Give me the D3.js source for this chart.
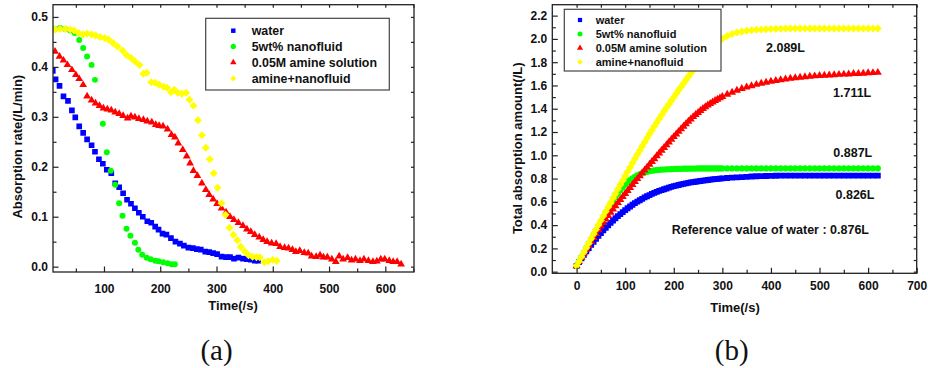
<!DOCTYPE html>
<html><head><meta charset="utf-8">
<script src="https://cdn.jsdelivr.net/npm/d3@7"></script>
<style>
body{margin:0;background:#fff;}
svg{display:block;}
text{font-family:"Liberation Sans",Arial,sans-serif;font-weight:bold;fill:#111;}
text.serif{font-family:"Liberation Serif","Times New Roman",serif;font-weight:normal;}
</style></head><body>
<svg id="c" width="928" height="368"></svg>
<script>
// ---------- DATA ----------
const seriesNames = ["water", "5wt% nanofluid", "0.05M amine solution", "amine+nanofluid"];

// (a) absorption rate (/L/min) vs time (s)
const waterAT = [9,14,21,28,36,43,49,56,63,70,78,84,91,98,105,113,120,127,134,141,148,155,162,169,177,184,191,197,204,211,219,227,235,242,250,258,265,272,280,287,294,301,309,317,324,331,339,347,354,361,368,374];
const waterAV = [0.392,0.375,0.362,0.341,0.332,0.313,0.299,0.281,0.268,0.255,0.243,0.230,0.215,0.206,0.194,0.187,0.167,0.159,0.147,0.134,0.126,0.117,0.108,0.100,0.091,0.088,0.080,0.074,0.066,0.064,0.057,0.050,0.046,0.042,0.038,0.037,0.035,0.034,0.030,0.029,0.027,0.025,0.020,0.019,0.019,0.016,0.018,0.016,0.015,0.014,0.012,0.012];
const greenAT = [13,22,31,40,48,56,63,70,78,84,98,105,112,120,127,133,140,147,155,161,168,176,183,191,197,205,213,220,226];
const greenAV = [0.476,0.478,0.476,0.473,0.468,0.454,0.438,0.421,0.404,0.374,0.286,0.229,0.192,0.164,0.127,0.102,0.076,0.062,0.048,0.034,0.024,0.018,0.015,0.012,0.011,0.009,0.007,0.005,0.005];
const redAT = [13,21,28,35,43,50,56,63,70,78,85,92,99,106,113,120,127,134,142,148,155,162,170,177,185,192,198,205,213,220,226,232,240,247,253,259,266,274,281,287,294,301,309,317,324,331,339,347,354,361,368,376,383,390,398,406,413,421,428,435,441,448,456,463,469,477,484,490,497,505,512,518,525,533,540,547,555,562,570,578,585,592,599,607,614,621,628];
const redAV = [0.431,0.421,0.413,0.404,0.394,0.384,0.376,0.364,0.341,0.333,0.327,0.322,0.317,0.315,0.313,0.309,0.306,0.302,0.297,0.301,0.299,0.296,0.294,0.291,0.289,0.284,0.282,0.281,0.275,0.264,0.259,0.247,0.234,0.221,0.207,0.192,0.182,0.167,0.154,0.144,0.135,0.126,0.117,0.109,0.100,0.094,0.088,0.082,0.075,0.070,0.064,0.059,0.054,0.050,0.047,0.046,0.040,0.038,0.037,0.034,0.030,0.032,0.028,0.027,0.021,0.020,0.023,0.019,0.019,0.015,0.010,0.021,0.015,0.018,0.013,0.015,0.012,0.015,0.012,0.010,0.011,0.015,0.015,0.012,0.010,0.010,0.005];
const yellowAT = [13,22,31,40,47,55,63,70,78,85,93,101,108,116,124,133,140,148,155,163,170,176,184,191,198,206,212,219,225,231,238,246,252,259,267,274,281,288,295,302,309,316,323,330,337,343,350,357,364,371,377,385,392,400,407];
const yellowAV = [0.475,0.476,0.476,0.475,0.473,0.468,0.465,0.467,0.465,0.463,0.460,0.458,0.455,0.448,0.441,0.433,0.424,0.418,0.411,0.404,0.386,0.388,0.369,0.368,0.364,0.360,0.358,0.349,0.354,0.348,0.346,0.348,0.334,0.322,0.293,0.263,0.238,0.215,0.187,0.158,0.127,0.104,0.078,0.064,0.053,0.040,0.031,0.023,0.020,0.019,0.019,0.009,0.011,0.014,0.012];

// (b) total absorption amount (/L) vs time (s): 5 s samples to 295 s, then 10 s samples to 620 s
const timeB = d3.range(0, 300, 5).concat(d3.range(300, 621, 10));
const waterBV = [0.050,0.083,0.114,0.145,0.174,0.202,0.230,0.257,0.283,0.308,0.332,0.355,0.377,0.399,0.420,0.440,0.459,0.477,0.495,0.512,0.529,0.545,0.560,0.575,0.589,0.602,0.614,0.626,0.638,0.648,0.658,0.668,0.677,0.686,0.694,0.701,0.708,0.715,0.722,0.729,0.735,0.740,0.745,0.750,0.755,0.759,0.763,0.767,0.770,0.773,0.776,0.779,0.782,0.785,0.788,0.791,0.793,0.795,0.797,0.799,
  0.801,0.805,0.808,0.810,0.813,0.815,0.818,0.820,0.821,0.822,0.823,0.824,0.825,0.826,0.826,0.826,0.826,0.826,0.826,0.826,0.826,0.826,0.826,0.826,0.826,0.826,0.826,0.826,0.826,0.826,0.826,0.826,0.826];
const greenBV = [0.050,0.088,0.126,0.165,0.203,0.242,0.280,0.318,0.356,0.394,0.432,0.469,0.505,0.540,0.575,0.609,0.641,0.671,0.700,0.726,0.749,0.769,0.786,0.801,0.815,0.827,0.837,0.845,0.852,0.858,0.863,0.867,0.871,0.873,0.875,0.877,0.878,0.879,0.880,0.881,0.882,0.883,0.884,0.884,0.885,0.885,0.885,0.886,0.886,0.886,0.887,0.887,0.887,0.887,0.887,0.887,0.887,0.887,0.887,0.887,
  0.887,0.887,0.887,0.887,0.887,0.887,0.887,0.887,0.887,0.887,0.887,0.887,0.887,0.887,0.887,0.887,0.887,0.887,0.887,0.887,0.887,0.887,0.887,0.887,0.887,0.887,0.887,0.887,0.887,0.887,0.887,0.887,0.887];
const redBV = [0.050,0.087,0.123,0.158,0.192,0.226,0.260,0.293,0.326,0.358,0.390,0.421,0.452,0.481,0.510,0.538,0.565,0.592,0.618,0.644,0.670,0.696,0.722,0.748,0.773,0.798,0.823,0.848,0.872,0.897,0.921,0.945,0.969,0.994,1.018,1.042,1.065,1.089,1.112,1.136,1.159,1.182,1.204,1.227,1.249,1.270,1.291,1.311,1.331,1.349,1.367,1.384,1.400,1.415,1.430,1.444,1.457,1.469,1.481,1.492,
  1.503,1.523,1.541,1.557,1.572,1.585,1.597,1.608,1.618,1.627,1.634,1.642,1.648,1.654,1.660,1.665,1.670,1.674,1.677,1.681,1.684,1.686,1.689,1.691,1.694,1.696,1.698,1.701,1.702,1.704,1.707,1.709,1.711];
const yellowBV = [0.050,0.089,0.128,0.167,0.206,0.245,0.284,0.323,0.362,0.401,0.440,0.479,0.517,0.555,0.593,0.632,0.670,0.708,0.746,0.784,0.822,0.859,0.896,0.933,0.970,1.006,1.042,1.078,1.113,1.148,1.182,1.216,1.249,1.282,1.315,1.347,1.379,1.409,1.439,1.469,1.499,1.529,1.558,1.588,1.617,1.646,1.674,1.703,1.731,1.760,1.788,1.816,1.842,1.867,1.891,1.913,1.934,1.953,1.971,1.987,
  2.002,2.026,2.043,2.055,2.064,2.071,2.075,2.078,2.081,2.083,2.085,2.087,2.088,2.089,2.089,2.089,2.089,2.089,2.089,2.089,2.089,2.089,2.089,2.089,2.089,2.089,2.089,2.089,2.089,2.089,2.089,2.089,2.089];

// tick values
const xTicksA = [100,200,300,400,500,600];
const xMinorA = [50,150,250,350,450,550,650];
const yTicksA = [0,0.1,0.2,0.3,0.4,0.5];
const yMinorA = [0.05,0.15,0.25,0.35,0.45];
const xTicksB = [0,100,200,300,400,500,600,700];
const xMinorB = [50,150,250,350,450,550,650];
const yTicksB = [0,0.2,0.4,0.6,0.8,1.0,1.2,1.4,1.6,1.8,2.0,2.2];
const yMinorB = [0.1,0.3,0.5,0.7,0.9,1.1,1.3,1.5,1.7,1.9,2.1];

// annotations of panel (b)
const annoTexts = ["2.089L","1.711L","0.887L","0.826L","Reference value of water : 0.876L"];

// ---------- STYLE ----------
const colors = ["#0000ff","#00ff00","#ff0000","#ffff00"];
const svg = d3.select("#c");
const defs = svg.append("defs");

function symPath(i, size) {
  const types = [d3.symbolSquare, d3.symbolCircle, d3.symbolTriangle, d3.symbolSquare];
  return d3.symbol(types[i], size)();
}

function panel(cfg) {
  const x = cfg.x, y = cfg.y;
  const [x0, x1] = x.range();
  const [yb, yt] = y.range();
  const g = svg.append("g");
  defs.append("clipPath").attr("id", cfg.clipId).append("rect")
    .attr("x", x0).attr("y", yt).attr("width", x1 - x0).attr("height", yb - yt);

  const dg = g.append("g").attr("clip-path", `url(#${cfg.clipId})`);
  cfg.series.forEach((s, i) => {
    const pts = s.t.map((t, j) => [t, s.v[j]]);
    dg.append("g").selectAll("path").data(pts).join("path")
      .attr("d", symPath(i, cfg.sizes[i]))
      .attr("transform", d => `translate(${x(d[0])},${y(d[1])})` + (i === 3 ? " rotate(45)" : ""))
      .attr("fill", colors[i]);
  });

  const strip = sel => { sel.select(".domain").remove(); sel.attr("font-family", null).attr("font-size", 12).attr("color", "#222"); sel.selectAll("line").attr("stroke-width", 1.2); };
  // bottom
  g.append("g").attr("transform", `translate(0,${yb})`)
    .call(d3.axisBottom(x).tickValues(cfg.xMajor).tickSize(-5.5).tickPadding(cfg.xPad).tickFormat(d3.format("d"))).call(strip);
  g.append("g").attr("transform", `translate(0,${yb})`)
    .call(d3.axisBottom(x).tickValues(cfg.xMinor).tickSize(-3.5).tickFormat("")).call(strip);
  // left
  g.append("g").attr("transform", `translate(${x0},0)`)
    .call(d3.axisLeft(y).tickValues(cfg.yMajor).tickSize(-5.5).tickPadding(5).tickFormat(d3.format(".1f"))).call(strip);
  g.append("g").attr("transform", `translate(${x0},0)`)
    .call(d3.axisLeft(y).tickValues(cfg.yMinor).tickSize(-3.5).tickFormat("")).call(strip);
  // top / right mirrored
  g.append("g").attr("transform", `translate(0,${yt})`)
    .call(d3.axisTop(x).tickValues(cfg.xMajor.concat(cfg.xMinor)).tickSize(-3).tickFormat("")).call(strip);
  g.append("g").attr("transform", `translate(${x1},0)`)
    .call(d3.axisRight(y).tickValues(cfg.yMajor.concat(cfg.yMinor)).tickSize(-3).tickFormat("")).call(strip);
  // frame
  g.append("rect").attr("x", x0).attr("y", yt).attr("width", x1 - x0).attr("height", yb - yt)
    .attr("fill", "none").attr("stroke", "#222").attr("stroke-width", 1.3);

  // axis titles
  g.append("text").attr("x", cfg.xTitlePos[0]).attr("y", cfg.xTitlePos[1]).attr("text-anchor", "middle")
    .attr("font-size", 13).text("Time(/s)");
  g.append("text").attr("transform", `translate(${cfg.yTitlePos[0]},${cfg.yTitlePos[1]}) rotate(-90)`)
    .attr("text-anchor", "middle").attr("font-size", 13).text(cfg.yTitle);

  // legend
  const L = cfg.legend;
  const lg = g.append("g");
  lg.append("rect").attr("x", L.x).attr("y", L.y).attr("width", L.w).attr("height", L.h)
    .attr("fill", "#fff").attr("stroke", "#444").attr("stroke-width", 1.2);
  seriesNames.forEach((n, i) => {
    const ry = L.rows[i];
    lg.append("path").attr("d", symPath(i, L.sizes[i]))
      .attr("transform", `translate(${L.sx},${ry})` + (i === 3 ? " rotate(45)" : ""))
      .attr("fill", colors[i]);
    lg.append("text").attr("x", L.tx).attr("y", ry).attr("dy", "0.36em")
      .attr("font-size", L.fs).text(n);
  });

  // panel label
  g.append("text").attr("class", "serif").attr("x", cfg.label[1]).attr("y", 360)
    .attr("text-anchor", "middle").attr("font-size", 29).text(cfg.label[0]);
  return g;
}

// ---------- PANEL (a) ----------
const xA = d3.scaleLinear().domain([9.4, 651]).range([53, 414]);
const yA = d3.scaleLinear().domain([-0.0107, 0.5245]).range([272, 4.7]);
panel({
  x: xA, y: yA, clipId: "clipA",
  series: [{t: waterAT, v: waterAV}, {t: greenAT, v: greenAV}, {t: redAT, v: redAV}, {t: yellowAT, v: yellowAV}],
  sizes: [32, 28, 26, 32],
  xMajor: xTicksA, xMinor: xMinorA, yMajor: yTicksA, yMinor: yMinorA, xPad: 12,
  xTitlePos: [233, 310], yTitlePos: [21.7, 146.7], yTitle: "Absorption rate(/L/min)",
  legend: {x: 205.7, y: 18.3, w: 183.6, h: 71.7, rows: [30.7, 46.5, 62.5, 78.5], sx: 233.3, tx: 251.7, fs: 12.4, sizes: [20, 22, 18, 18]},
  label: ["(a)", 216.5]
});

// ---------- PANEL (b) ----------
const xB = d3.scaleLinear().domain([-50, 700]).range([552.3, 916.7]);
const yB = d3.scaleLinear().domain([-0.014, 2.294]).range([273.3, 4.7]);
const gB = panel({
  x: xB, y: yB, clipId: "clipB",
  series: [{t: timeB, v: waterBV}, {t: timeB, v: greenBV}, {t: timeB, v: redBV}, {t: timeB, v: yellowBV}],
  sizes: [34, 30, 28, 32],
  xMajor: xTicksB, xMinor: xMinorB, yMajor: yTicksB, yMinor: yMinorB, xPad: 8,
  xTitlePos: [735, 312], yTitlePos: [521.5, 148.3], yTitle: "Total absorption amount(/L)",
  legend: {x: 564.3, y: 9.3, w: 156.7, h: 61.7, rows: [20, 34, 48, 62], sx: 580, tx: 595.7, fs: 11, sizes: [18, 20, 16, 16]},
  label: ["(b)", 731.7]
});
const annoPos = [[766, 51.5], [833, 97.2], [833.3, 156.5], [835.5, 199], [671.7, 233.8]];
annoTexts.forEach((t, i) => {
  gB.append("text").attr("x", annoPos[i][0]).attr("y", annoPos[i][1]).attr("font-size", 12.5).text(t);
});
</script>
</body></html>
